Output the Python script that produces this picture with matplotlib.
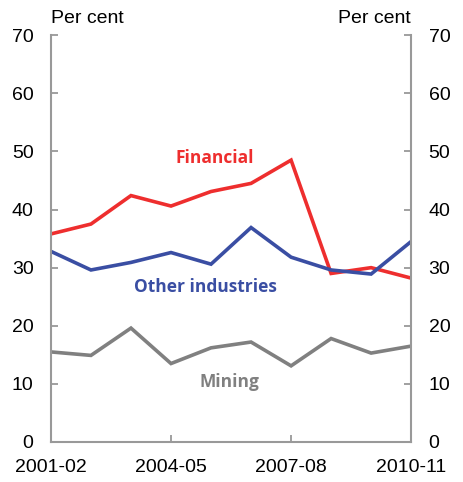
import matplotlib
matplotlib.use("Agg")
import matplotlib.pyplot as plt

years = ["2001-02", "2002-03", "2003-04", "2004-05", "2005-06",
         "2006-07", "2007-08", "2008-09", "2009-10", "2010-11"]
financial = [35.8, 37.5, 42.4, 40.6, 43.1, 44.5, 48.5, 29.0, 30.0, 28.2]
other = [32.8, 29.6, 30.9, 32.6, 30.6, 36.9, 31.8, 29.6, 28.9, 34.5]
mining = [15.5, 14.9, 19.6, 13.5, 16.2, 17.2, 13.1, 17.8, 15.3, 16.5]
xtick_labels = ["2001-02", "2004-05", "2007-08", "2010-11"]

red = "#ee2e2e"
blue = "#3a4ea3"
grey = "#808080"
axcol = "#999999"

plt.rcParams['font.family'] = ['Liberation Sans', 'DejaVu Sans']

fig = plt.figure(figsize=(4.63, 4.82), dpi=100)
ax = fig.add_axes([0.110, 0.083, 0.778, 0.844])

x = list(range(len(years)))
ax.plot(x, financial, color=red, lw=2.6, solid_joinstyle='miter')
ax.plot(x, other, color=blue, lw=2.6, solid_joinstyle='miter')
ax.plot(x, mining, color=grey, lw=2.6, solid_joinstyle='miter')

ax.set_xlim(0, len(years) - 1)
ax.set_ylim(0, 70)
ax.set_yticks(range(0, 71, 10))
ax.set_xticks([years.index(y) for y in xtick_labels])
ax.set_xticklabels(xtick_labels)

for s in ['left', 'right', 'bottom']:
    ax.spines[s].set_color(axcol)
    ax.spines[s].set_linewidth(1.5)
ax.spines['top'].set_visible(False)

ax.tick_params(axis='y', direction='in', length=5, width=1.3, color=axcol,
               labelsize=14, left=True, right=True, labelleft=True, labelright=True, pad=12.5)
ax.tick_params(axis='x', direction='in', length=5, width=1.3, color=axcol,
               labelsize=14, pad=12)

ax.text(0, 1.02, "Per cent", transform=ax.transAxes, ha='left', va='bottom', fontsize=14)
ax.text(1, 1.02, "Per cent", transform=ax.transAxes, ha='right', va='bottom', fontsize=14)

lab_font = ['Open Sans', 'DejaVu Sans']
ax.text(4.1, 48.8, "Financial", color=red, fontsize=12.5, fontweight='bold', ha='center', va='center', family=lab_font)
ax.text(3.85, 26.7, "Other industries", color=blue, fontsize=12.5, fontweight='bold', ha='center', va='center', family=lab_font)
ax.text(4.45, 10.4, "Mining", color=grey, fontsize=12.5, fontweight='bold', ha='center', va='center', family=lab_font)

fig.savefig("out.png", dpi=100)
